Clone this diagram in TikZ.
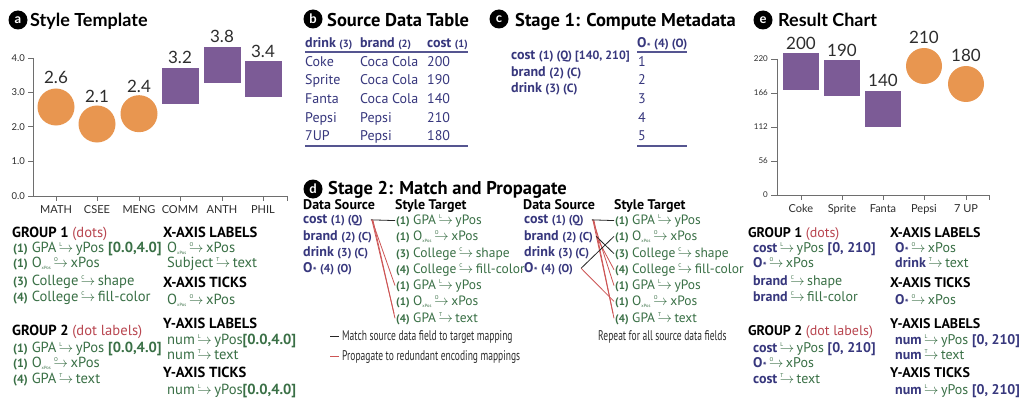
\documentclass[tikz,border=0pt]{standalone}
\usepackage{fontspec}
\usepackage{graphicx}
\setmainfont{PT Sans}
\newfontfamily\lato{Lato}
\definecolor{tgreen}{RGB}{58,112,70}
\definecolor{navy}{RGB}{55,55,125}
\definecolor{lblred}{RGB}{185,70,80}
\definecolor{lnred}{RGB}{205,85,85}
\definecolor{dotc}{RGB}{232,150,80}
\definecolor{sqc}{RGB}{124,91,150}
\definecolor{axc}{RGB}{110,110,110}
\definecolor{txc}{RGB}{45,45,45}
\newcommand\ma[1]{\kern2.5pt\makebox[0pt][l]{\kern0.5pt\raisebox{5.5pt}{\fontsize{5.5}{5.5}\selectfont #1}}$\rightarrow$\kern2.5pt}
\newcommand\pn[1]{{\bfseries\fontsize{11}{11}\selectfont(#1)}}
\newcommand\pa[1]{{\bfseries\fontsize{12}{12}\selectfont(#1)}}
\newcommand\Ox{O\textsubscript{\fontsize{4.5}{4.5}\selectfont xPos}}
\newcommand\Os{O\kern0.2pt\raisebox{-2.5pt}{\fontsize{10}{10}\selectfont\bfseries *}}
\newcommand\sm[1]{{\fontsize{10.5}{10.5}\selectfont #1}}
\newcommand\smd[1]{{\fontsize{11.5}{11.5}\selectfont #1}}
\newcommand\smc[1]{{\fontsize{12}{12}\selectfont #1}}
\newcommand\nb[1]{{\color{navy}\bfseries #1}}
\tikzset{
 tx/.style={anchor=base west, inner sep=0pt, font=\fontsize{14}{14}\selectfont},
 gr/.style={tx, text=tgreen},
 gra/.style={tx, text=tgreen, font=\fontsize{14.6}{14.6}\selectfont},
 grd/.style={tx, text=tgreen, font=\fontsize{13.5}{13.5}\selectfont},
 hd/.style={tx, text=black, font=\bfseries\fontsize{14}{14}\selectfont},
 hda/.style={tx, text=black, font=\bfseries\fontsize{14.6}{14.6}\selectfont},
 nv/.style={tx, text=navy},
 badge/.style={circle, fill=black, text=white, inner sep=0pt, minimum size=19pt, font=\lato\bfseries\fontsize{13}{13}\selectfont},
 ttlL/.style={anchor=base west, inner sep=0pt, font=\lato\bfseries\fontsize{18}{18}\selectfont},
 ttlP/.style={anchor=base west, inner sep=0pt, font=\bfseries\fontsize{18.5}{18.5}\selectfont},
 ax/.style={draw=axc, line width=0.9pt},
 ylab/.style={anchor=east, inner sep=0pt, text=txc, font=\lato\fontsize{9.5}{9.5}\selectfont},
 ylabs/.style={anchor=east, inner sep=0pt, text=txc, font=\lato\fontsize{8}{8}\selectfont},
 xlab/.style={anchor=base, inner sep=0pt, text=txc, font=\lato\fontsize{11}{11}\selectfont},
 val/.style={inner sep=0pt, text=txc, font=\lato\fontsize{17}{17}\selectfont},
 dot/.style={fill=dotc},
 sq/.style={fill=sqc},
 tl/.style={draw=navy!85, line width=1.6pt},
 mline/.style={draw=black!85, line width=0.8pt},
 pline/.style={draw=lnred, line width=0.8pt},
 cond/.style={anchor=base west, inner sep=0pt, text=txc, font=\fontsize{14}{14}\selectfont},
}
\begin{document}
\begin{tikzpicture}[x=1pt,y=-1pt]
\useasboundingbox (0,0) rectangle (1024,401);
\fill[white] (0,0) rectangle (1024,401);

% ---------- titles
\node[badge] (ba) at (18,20) {a};
\node[ttlL] (ta) at (30,27) {Style Template};
\node[badge] (bb) at (313,19) {b};
\node[ttlP] (tb) at (327,27) {Source Data Table};
\node[badge] (bc) at (499,19) {c};
\node[ttlP] (tc) at (515,27) {Stage 1: Compute Metadata};
\node[badge] (bd) at (313,189) {d};
\node[ttlP] (td) at (328,194) {Stage 2: Match and Propagate};
\node[badge] (be) at (763,20) {e};
\node[ttlL] (te) at (778,27) {Result Chart};

% ---------- chart a
\draw[ax] (33,58) -- (33,196) -- (287,196);
\foreach \y/\l [count=\i] in {58/4.0, 92.5/3.0, 126.7/2.0, 161/1.0, 196/0.0} {
  \draw[ax] (28,\y) -- (33,\y);
  \node[ylab] (ya\i) at (25,\y) {\l};
}
\foreach \x/\l [count=\i] in {56/MATH, 97/CSEE, 139/MENG, 180/COMM, 222/ANTH, 263/PHIL} {
  \draw[ax] (\x,196) -- (\x,201);
  \node[xlab] (xa\i) at (\x,213) {\l};
}
\draw[ax] (287,196) -- (287,201);
\fill[dot] (56,107) circle (18.5);
\fill[dot] (97,124) circle (18.5);
\fill[dot] (139,113.7) circle (18.5);
\fill[sq] (162,68) rectangle (199,104);
\fill[sq] (203.5,47.5) rectangle (240.5,83.5);
\fill[sq] (245,61) rectangle (282,97);
\node[val] (va1) at (56,77.5) {2.6};
\node[val] (va2) at (97,96) {2.1};
\node[val] (va3) at (139,86) {2.4};
\node[val] (va4) at (180,57.5) {3.2};
\node[val] (va5) at (222,36.5) {3.8};
\node[val] (va6) at (263,51) {3.4};

% ---------- text a
\node[hda] (g1) at (12,237) {GROUP 1 {\mdseries\color{lblred}(dots)}};
\node[gra] (a1) at (13,252) {\pa{1} GPA\ma{L}yPos {\bfseries[0.0,4.0]}};
\node[gra] (a2) at (13,267) {\pa{1} \Ox\ma{O}xPos};
\node[gra] (a3) at (13,285) {\pa{3} College\ma{C}shape};
\node[gra] (a4) at (13,301) {\pa{4} College\ma{C}fill-color};
\node[hda] (g2) at (12,335) {GROUP 2 {\mdseries\color{lblred}(dot labels)}};
\node[gra] (a5) at (13,352) {\pa{1} GPA\ma{L}yPos {\bfseries[0.0,4.0]}};
\node[gra] (a6) at (13,367) {\pa{1} \Ox\ma{O}xPos};
\node[gra] (a7) at (13,383) {\pa{4} GPA\ma{T}text};
\node[hda] (xl) at (163,237) {X-AXIS LABELS};
\node[gra] (a8) at (167,252) {\Ox\ma{O}xPos};
\node[gra] (a9) at (167,267) {Subject\ma{T}text};
\node[hda] (xt) at (163,287) {X-AXIS TICKS};
\node[gra] (a10) at (167,304) {\Ox\ma{O}xPos};
\node[hda] (yl) at (163,328) {Y-AXIS LABELS};
\node[gra] (a11) at (167,344) {num\ma{L}yPos{\bfseries[0.0,4.0]}};
\node[gra] (a12) at (167,359) {num\ma{T}text};
\node[hda] (yt) at (163,377) {Y-AXIS TICKS};
\node[gra] (a13) at (167,394) {num\ma{L}yPos{\bfseries[0.0,4.0]}};

% ---------- table b
\node[nv] (bh1) at (305,48) {\bfseries drink \sm{(3)}};
\node[nv] (bh2) at (360,48) {\bfseries brand \sm{(2)}};
\node[nv] (bh3) at (427,48) {\bfseries cost \sm{(1)}};
\draw[tl] (305,52) -- (468,52);
\foreach \d/\b/\c/\y [count=\i] in {Coke/Coca Cola/200/67, Sprite/Coca Cola/190/85, Fanta/Coca Cola/140/103.5, Pepsi/Pepsi/210/122, 7UP/Pepsi/180/140} {
  \node[nv] (bd\i) at (305,\y) {\d};
  \node[nv] (bb\i) at (360,\y) {\b};
  \node[nv] (bc\i) at (427,\y) {\c};
}
\draw[tl] (305,146) -- (468,146);

% ---------- stage c
\node[nv] (c1) at (511,60) {\bfseries cost \smc{(1) (Q) [140, 210]}};
\node[nv] (c2) at (511,77) {\bfseries brand \smc{(2) (C)}};
\node[nv] (c3) at (511,93) {\bfseries drink \smc{(3) (C)}};
\node[nv] (c4) at (637,48) {\bfseries\Os\ \smc{(4) (O)}};
\draw[navy!85, line width=1.2pt] (637,52) -- (687,52);
\foreach \n/\y in {1/67, 2/85, 3/103.5, 4/122, 5/140} {
  \node[nv] (cn\n) at (638,\y) {\n};
}
\draw[tl] (637,146) -- (687,146);

% ---------- stage d, part 1
\node[hd] (dsA) at (303,209) {Data Source};
\node[hd] (dtA) at (395,209) {Style Target};
\node[nv] (s1c) at (303,223) {\bfseries cost \smd{(1) (Q)}};
\node[nv] (s1b) at (303,240) {\bfseries brand \smd{(2) (C)}};
\node[nv] (s1d) at (303,256) {\bfseries drink \smd{(3) (C)}};
\node[nv] (s1o) at (303,272) {\bfseries\Os\ \smd{(4) (O)}};
\node[grd] (t1a) at (396,224) {\pn{1} GPA\ma{L}yPos};
\node[grd] (t1b) at (396,240) {\pn{1} \Ox\ma{O}xPos};
\node[grd] (t1c) at (396,257) {\pn{3} College\ma{C}shape};
\node[grd] (t1d) at (396,273) {\pn{4} College\ma{C}fill-color};
\node[grd] (t1e) at (396,289) {\pn{1} GPA\ma{L}yPos};
\node[grd] (t1f) at (396,305) {\pn{1} \Ox\ma{O}xPos};
\node[grd] (t1g) at (396,322) {\pn{4} GPA\ma{T}text};
\draw[mline] ([xshift=8]s1c.east) -- ([xshift=-1]t1a.west);
\draw[pline] ([xshift=9]s1c.east) -- ([xshift=-1]t1e.west);
\draw[pline] ([xshift=9]s1c.east) -- ([xshift=-2,yshift=5]t1g.west);
\draw[pline] ([xshift=10]s1c.east) -- ([xshift=-1]t1g.west);

% ---------- stage d, part 2
\node[hd] (dsB) at (523,209) {Data Source};
\node[hd] (dtB) at (614,209) {Style Target};
\node[nv] (s2c) at (524,223) {\bfseries cost \smd{(1) (Q)}};
\node[nv] (s2b) at (524,240) {\bfseries brand \smd{(2) (C)}};
\node[nv] (s2d) at (524,256) {\bfseries drink \smd{(3) (C)}};
\node[nv] (s2o) at (524,272) {\bfseries\Os\ \smd{(4) (O)}};
\node[grd] (t2a) at (615,224) {\pn{1} GPA\ma{L}yPos};
\node[grd] (t2b) at (615,240) {\pn{1} \Ox\ma{O}xPos};
\node[grd] (t2c) at (615,257) {\pn{3} College\ma{C}shape};
\node[grd] (t2d) at (615,273) {\pn{4} College\ma{C}fill-color};
\node[grd] (t2e) at (615,289) {\pn{1} GPA\ma{L}yPos};
\node[grd] (t2f) at (615,305) {\pn{1} \Ox\ma{O}xPos};
\node[grd] (t2g) at (615,322) {\pn{4} GPA\ma{T}text};
\draw[pline] ([xshift=9]s2c.east) -- ([xshift=-1]t2e.west);
\draw[pline] ([xshift=9]s2c.east) -- ([xshift=-2,yshift=5]t2g.west);
\draw[pline] ([xshift=10]s2c.east) -- ([xshift=-1]t2g.west);
\draw[pline] ([xshift=3]s2b.east) -- ([xshift=-1]t2d.west);
\draw[pline] ([xshift=8]s2o.east) -- ([xshift=-1]t2f.west);
\draw[mline] ([xshift=8]s2c.east) -- ([xshift=-1]t2a.west);
\draw[mline] ([xshift=3]s2b.east) -- ([xshift=-1]t2c.west);
\draw[mline] ([xshift=8]s2o.east) -- ([xshift=-1]t2b.west);

% ---------- legend
\node[cond] (lg1) at (342,340) {\scalebox{0.68}[1]{Match source data field to target mapping}};
\node[cond] (lg2) at (342,360) {\scalebox{0.68}[1]{Propagate to redundant encoding mappings}};
\draw[mline, line width=1.2pt] ([xshift=-12]lg1.west) -- ([xshift=-3]lg1.west);
\draw[pline, line width=1.2pt] ([xshift=-12]lg2.west) -- ([xshift=-3]lg2.west);
\node[cond] (rp) at (598,340) {\scalebox{0.68}[1]{Repeat for all source data fields}};

% ---------- chart e
\draw[ax] (777,59) -- (777,195) -- (989,195);
\foreach \y/\l [count=\i] in {59/220, 93/166, 127/112, 161/56, 195/0} {
  \draw[ax] (771,\y) -- (777,\y);
  \node[ylabs] (ye\i) at (768,\y) {\l};
}
\foreach \x/\l [count=\i] in {801/Coke, 842/Sprite, 883/Fanta, 924/Pepsi, 966/7 UP} {
  \draw[ax] (\x,195) -- (\x,200);
  \node[xlab] (xe\i) at (\x,212) {\l};
}
\draw[ax] (989,195) -- (989,200);
\fill[sq] (783,53) rectangle (819,90);
\fill[sq] (824,60) rectangle (860,96);
\fill[sq] (865,91) rectangle (901,127);
\fill[dot] (924,66) circle (18);
\fill[dot] (966,84) circle (18);
\node[val] (ve1) at (801,43.5) {200};
\node[val] (ve2) at (842,50) {190};
\node[val] (ve3) at (883,80) {140};
\node[val] (ve4) at (924,37) {210};
\node[val] (ve5) at (966,55.5) {180};

% ---------- text e
\node[hd] (h1) at (748,237) {GROUP 1 {\mdseries\color{lblred}(dots)}};
\node[gr] (e1) at (753,252) {\nb{cost}\ma{L}yPos \nb{[0, 210]}};
\node[gr] (e2) at (753,267) {\nb{\Os}\ma{O}xPos};
\node[gr] (e3) at (753,285) {\nb{brand}\ma{C}shape};
\node[gr] (e4) at (753,301) {\nb{brand}\ma{C}fill-color};
\node[hd] (h2) at (748,335) {GROUP 2 {\mdseries\color{lblred}(dot labels)}};
\node[gr] (e5) at (753,352) {\nb{cost}\ma{L}yPos \nb{[0, 210]}};
\node[gr] (e6) at (753,367) {\nb{\Os}\ma{O}xPos};
\node[gr] (e7) at (753,383) {\nb{cost}\ma{T}text};
\node[hd] (h3) at (890,237) {X-AXIS LABELS};
\node[gr] (e8) at (895,252) {\nb{\Os}\ma{O}xPos};
\node[gr] (e9) at (895,267) {\nb{drink}\ma{T}text};
\node[hd] (h4) at (890,287) {X-AXIS TICKS};
\node[gr] (e10) at (895,304) {\nb{\Os}\ma{O}xPos};
\node[hd] (h5) at (890,328) {Y-AXIS LABELS};
\node[gr] (e11) at (895,344) {\nb{num}\ma{L}yPos \nb{[0, 210]}};
\node[gr] (e12) at (895,359) {\nb{num}\ma{T}text};
\node[hd] (h6) at (890,377) {Y-AXIS TICKS};
\node[gr] (e13) at (895,394) {\nb{num}\ma{L}yPos \nb{[0, 210]}};
\end{tikzpicture}
\end{document}
